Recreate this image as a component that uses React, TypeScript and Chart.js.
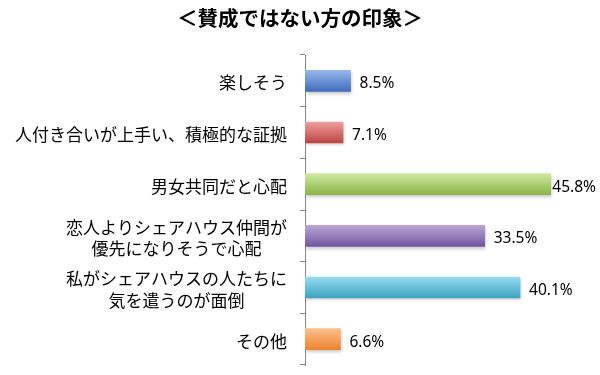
import React, { useEffect, useRef } from "react";
import { Chart, registerables } from "chart.js";

Chart.register(...registerables);

const titleText = "＜賛成ではない方の印象＞";
const categories: string[][] = [
  ["楽しそう"],
  ["人付き合いが上手い、積極的な証拠"],
  ["男女共同だと心配"],
  ["恋人よりシェアハウス仲間が", "優先になりそうで心配"],
  ["私がシェアハウスの人たちに", "気を遣うのが面倒"],
  ["その他"],
];
const values = [8.5, 7.1, 45.8, 33.5, 40.1, 6.6];
const colorsTop = ["#97B7EA", "#EE9E9C", "#CFE8A2", "#BBA6D6", "#97DBF2", "#FBC08E"];
const colorsBottom = ["#3E6DBD", "#BB4643", "#8AB546", "#7155A0", "#3CA3C1", "#F08330"];

const JP_FONT = "'Noto Sans CJK JP', 'Noto Sans', sans-serif";
const NUM_FONT = "'Noto Sans', 'Liberation Sans', sans-serif";

const categoryLabelPlugin = {
  id: "categoryLabels",
  afterDraw(chart: any) {
    const { ctx } = chart;
    const yScale = chart.scales.y;
    const xScale = chart.scales.x;
    ctx.save();
    // category labels
    ctx.font = `17px ${JP_FONT}`;
    ctx.fillStyle = "#000";
    ctx.textBaseline = "middle";
    ctx.textAlign = "center";
    const rightEdge = xScale.left - 18;
    const lineH = 21.5;
    categories.forEach((lines, i) => {
      const cy = yScale.getPixelForValue(i) + 2;
      const widest = Math.max(...lines.map((l) => ctx.measureText(l).width));
      const cx = rightEdge - widest / 2;
      const startY = cy - ((lines.length - 1) * lineH) / 2;
      lines.forEach((l, k) => ctx.fillText(l, cx, startY + k * lineH));
    });
    // value labels
    ctx.font = `15.5px ${NUM_FONT}`;
    ctx.textAlign = "left";
    const meta = chart.getDatasetMeta(0);
    meta.data.forEach((bar: any, i: number) => {
      const txt = values[i].toFixed(1) + "%";
      const w = ctx.measureText(txt).width;
      let x = bar.x + 9;
      if (x + w > chart.width - 4) x = chart.width - 4 - w;
      ctx.fillText(txt, x, bar.y + 3);
    });
    ctx.restore();
  },
};

const shadowPlugin = {
  id: "barShadow",
  beforeDatasetDraw(chart: any) {
    const { ctx } = chart;
    ctx.save();
    ctx.shadowColor = "rgba(0,0,0,0.22)";
    ctx.shadowBlur = 3;
    ctx.shadowOffsetX = 1;
    ctx.shadowOffsetY = 2;
  },
  afterDatasetDraw(chart: any) {
    chart.ctx.restore();
  },
};

export default function App() {
  const canvasRef = useRef<HTMLCanvasElement | null>(null);

  useEffect(() => {
    const canvas = canvasRef.current;
    if (!canvas) return;
    const BAR_T = 21;
    const chart = new Chart(canvas, {
      type: "bar",
      data: {
        labels: categories,
        datasets: [
          {
            data: values,
            barThickness: BAR_T,
            borderWidth: 0,
            backgroundColor: (c: any) => {
              const i = c.dataIndex ?? 0;
              const ch = c.chart;
              const ys = ch.scales && ch.scales.y;
              if (!ys || !ch.chartArea) return colorsBottom[i];
              const cy = ys.getPixelForValue(i);
              const g = ch.ctx.createLinearGradient(0, cy - BAR_T / 2, 0, cy + BAR_T / 2);
              g.addColorStop(0, colorsTop[i]);
              g.addColorStop(1, colorsBottom[i]);
              return g;
            },
          },
        ],
      },
      options: {
        indexAxis: "y",
        animation: false,
        responsive: true,
        maintainAspectRatio: false,
        layout: { padding: { left: 0, right: 0, top: 0, bottom: 10 } },
        plugins: {
          legend: { display: false },
          tooltip: { enabled: false },
          title: {
            display: true,
            text: titleText,
            color: "#000",
            font: { family: JP_FONT, size: 20.5, weight: "bold", lineHeight: 1.2 },
            padding: { top: 6, bottom: 24.4 },
          },
        },
        scales: {
          x: {
            display: false,
            min: 0,
            max: 55,
          },
          y: {
            position: "left",
            offset: true,
            afterFit: (s: any) => {
              s.width = 305;
            },
            ticks: { display: false },
            grid: {
              offset: true,
              drawOnChartArea: false,
              drawTicks: true,
              tickLength: 5,
              color: "#868686",
            },
            border: { display: true, color: "#868686", width: 1 },
          },
        },
      },
      plugins: [shadowPlugin, categoryLabelPlugin],
    } as any);
    return () => chart.destroy();
  }, []);

  return (
    <div
      style={{
        position: "fixed",
        left: 0,
        top: 0,
        width: 600,
        height: 375,
        background: "#fff",
      }}
    >
      <canvas ref={canvasRef} />
    </div>
  );
}
